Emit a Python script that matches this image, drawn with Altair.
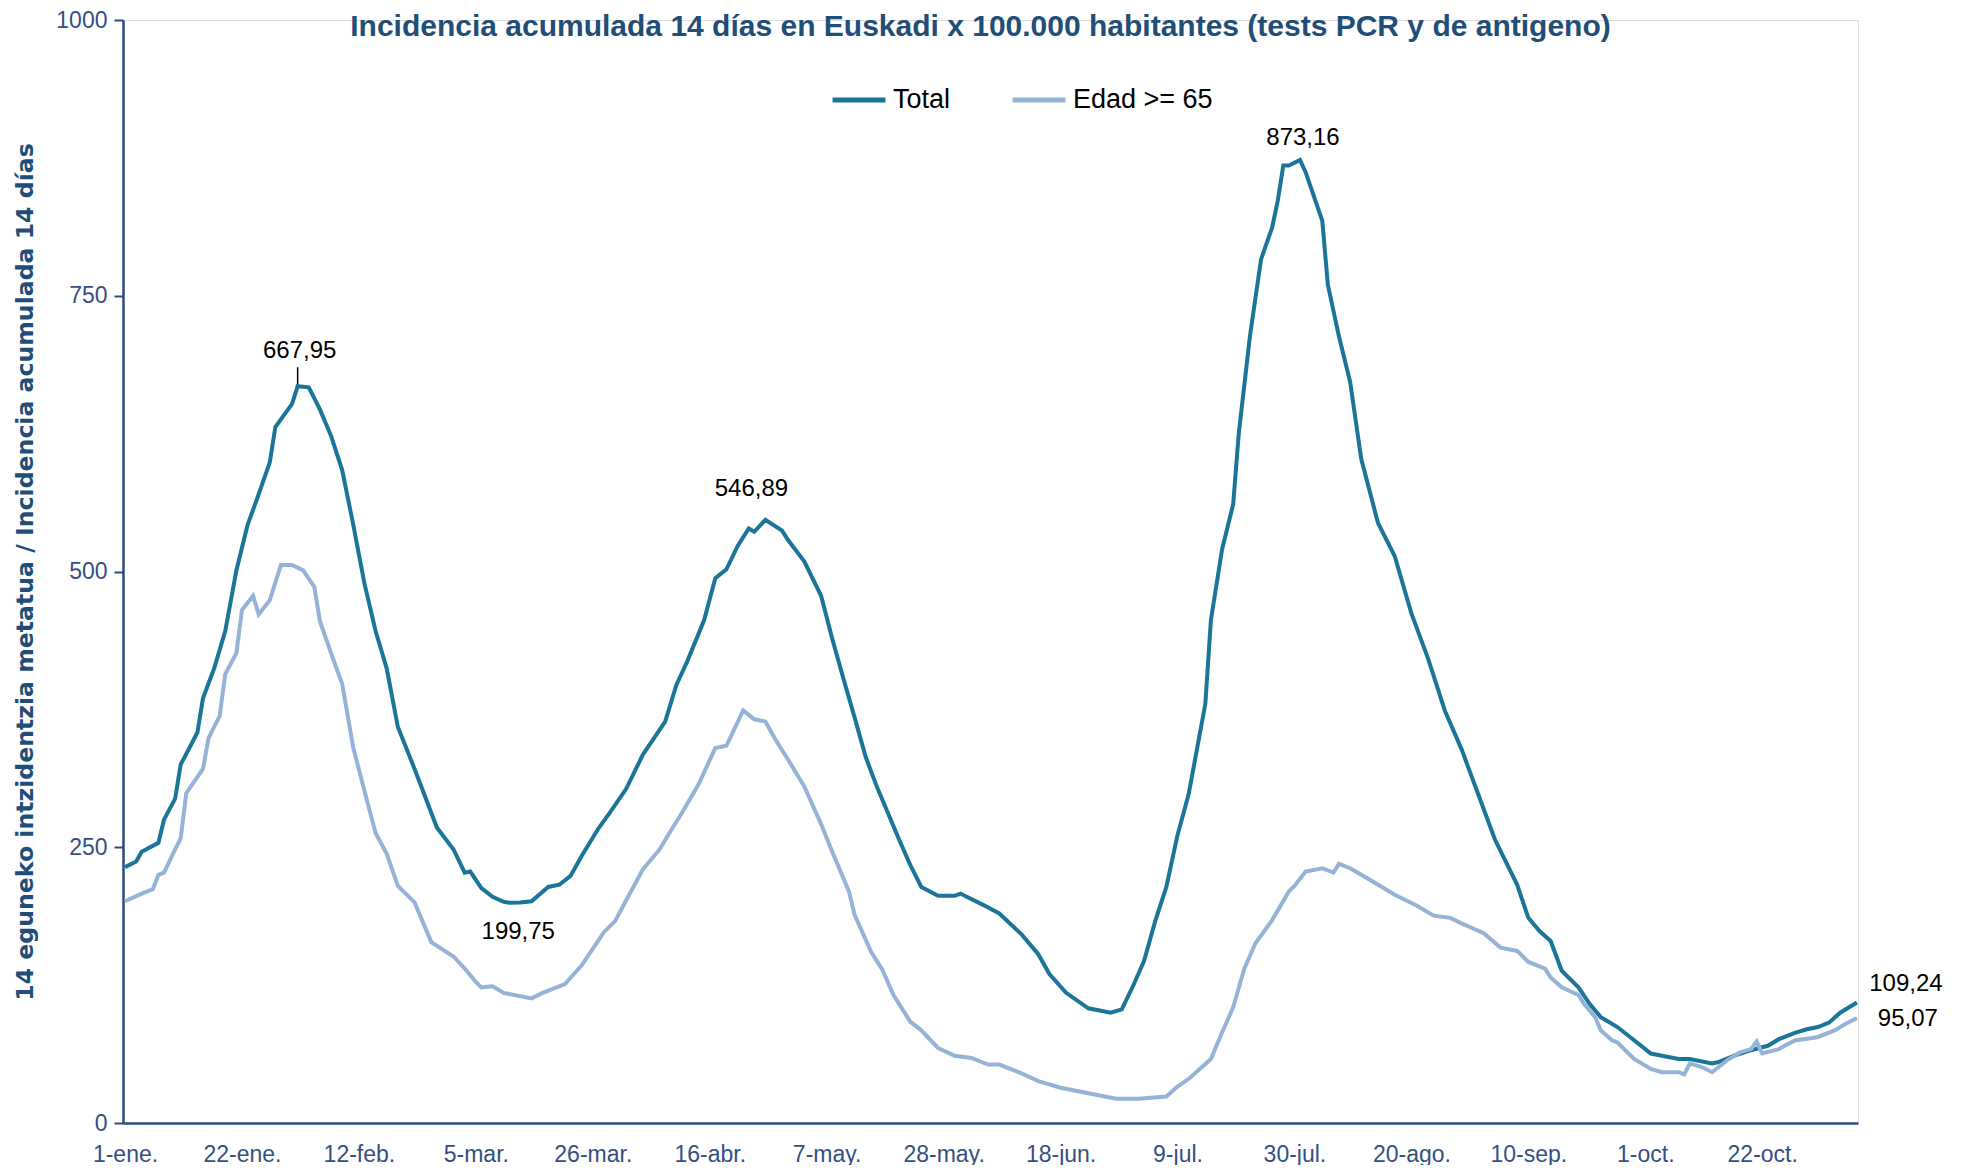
import altair as alt
import pandas as pd

# ---- data (day 0 = 1 enero 2021) ----
TOTAL_DAYS = [0, 2, 3, 6, 7, 9, 10, 13, 14, 16, 18, 20, 22, 24, 26, 27, 30, 31, 33, 35,
              37, 39, 41, 43, 45, 47, 49, 52, 56, 59, 61, 62, 64, 66, 68, 69, 71, 73, 76, 78,
              80, 82, 85, 87, 90, 93, 97, 99, 101, 104, 106, 108, 110, 112, 113, 115, 118, 119, 122, 125,
              127, 129, 131, 133, 135, 137, 139, 141, 143, 146, 149, 150, 154, 157, 161, 164, 166, 169, 173, 177,
              179, 181, 183, 185, 187, 189, 191, 194, 195, 197, 199, 200, 202, 204, 206, 207, 208, 209, 211, 212,
              215, 216, 218, 220, 222, 225, 228, 231, 234, 237, 240, 243, 246, 250, 252, 254, 256, 258, 261, 263,
              265, 268, 271, 274, 276, 279, 281, 285, 286, 289, 292, 295, 297, 300, 302, 304, 306, 308, 311]
TOTAL_VALUES = [232, 237, 246, 254, 275, 294, 325, 354, 385, 412, 446, 501, 542, 570, 599, 631, 652, 667.95, 667, 647,
                623, 592, 542, 489, 446, 412, 359, 321, 268, 248, 227, 228, 213, 205, 200.5, 199.75, 200, 201, 214, 216,
                224, 242, 267, 281, 303, 334, 364, 397, 419, 456, 494, 502, 523, 539, 536, 546.89, 537, 529, 509, 478,
                439, 403, 368, 332, 305, 281, 257, 234, 214, 206, 206, 208, 198, 190, 171, 153, 135, 118, 104, 100,
                103, 124, 147, 183, 214, 261, 298, 380, 456, 520, 561, 625, 713, 783, 812, 836, 868, 868, 873.16, 862,
                818, 760, 713, 672, 602, 544, 514, 462, 421, 374, 339, 298, 257, 216, 186, 174, 165, 138, 123, 108,
                96, 87, 75, 63, 61, 58, 58, 54, 55, 61, 66, 70, 76, 82, 85, 87, 91, 100, 109.24]

EDAD_DAYS = [0, 3, 5, 6, 7, 9, 10, 11, 14, 15, 17, 18, 20, 21, 23, 24, 26, 28, 30, 32,
             34, 35, 37, 39, 41, 43, 45, 47, 49, 52, 55, 59, 61, 63, 64, 66, 68, 73, 75, 79,
             82, 86, 88, 90, 93, 96, 98, 100, 103, 106, 108, 111, 113, 115, 117, 119, 122, 125, 127, 130,
             131, 134, 136, 138, 141, 143, 146, 149, 152, 155, 157, 161, 164, 168, 173, 178, 182, 187, 189, 191,
             195, 197, 199, 201, 203, 206, 209, 210, 212, 215, 217, 218, 220, 222, 226, 228, 232, 235, 238, 240,
             244, 247, 250, 252, 255, 256, 258, 261, 262, 264, 265, 267, 268, 270, 271, 274, 276, 279, 280, 281,
             283, 285, 288, 290, 292, 293, 294, 297, 298, 300, 303, 304, 307, 309, 311]
EDAD_VALUES = [201, 208, 212, 225, 227, 248, 258, 299, 321, 349, 369, 407, 426, 465, 478, 461, 474, 506, 506, 501,
               486, 455, 426, 398, 340, 301, 263, 244, 215, 200, 164, 151, 140, 128, 123, 124, 118, 113, 118, 126,
               143, 173, 183, 202, 230, 248, 265, 281, 307, 340, 342, 374, 366, 364, 346, 330, 305, 271, 246, 210,
               189, 155, 139, 116, 92, 84, 68, 61, 59, 53, 53, 45, 38, 32, 27, 22, 22, 24, 33, 40,
               58, 82, 105, 140, 163, 184, 210, 215, 228, 231, 227, 235, 231, 225, 213, 207, 197, 188, 186, 181,
               172, 159, 156, 146, 140, 132, 123, 116, 108, 96, 84, 75, 73, 63, 58, 49, 46, 46, 44, 54,
               51, 46, 58, 64, 67, 74, 63, 67, 70, 75, 77, 78, 84, 90, 95.07]

SERIES = ["Total", "Edad >= 65"]
SERIES_COLORS = ["#1A7598", "#95B3D7"]

TICK_DAYS = [0, 21, 42, 63, 84, 105, 126, 147, 168, 189, 210, 231, 252, 273, 294]
TICK_LABELS = ["1-ene.", "22-ene.", "12-feb.", "5-mar.", "26-mar.", "16-abr.", "7-may.",
               "28-may.", "18-jun.", "9-jul.", "30-jul.", "20-ago.", "10-sep.", "1-oct.", "22-oct."]
Y_TICKS = [0, 250, 500, 750, 1000]

ANNOT_DAYS = [31, 115, 69, 211, 311, 311]
ANNOT_VALUES = [667.95, 546.89, 199.75, 873.16, 109.24, 95.07]
ANNOT_TEXTS = ["667,95", "546,89", "199,75", "873,16", "109,24", "95,07"]
ANNOT_OFFSETS = [(2, -35), (-14, -31), (9, 29), (3, -22), (49, -19), (51, 1)]  # style (px)

TITLE = "Incidencia acumulada  14 días en Euskadi x 100.000 habitantes (tests PCR y de antigeno)"
Y_TITLE = "14 eguneko intzidentzia metatua / Incidencia acumulada  14 días"

# ---- build tables ----
rows = [{"day": d, "value": v, "serie": SERIES[0]} for d, v in zip(TOTAL_DAYS, TOTAL_VALUES)]
rows += [{"day": d, "value": v, "serie": SERIES[1]} for d, v in zip(EDAD_DAYS, EDAD_VALUES)]
df = pd.DataFrame(rows)

label_expr = "''"
for d, l in reversed(list(zip(TICK_DAYS, TICK_LABELS))):
    label_expr = f"datum.value == {d} ? '{l}' : ({label_expr})"

FONT = "Liberation Sans, Arial, sans-serif"
YTITLE_FONT = "DejaVu Sans, Verdana, sans-serif"
AXIS_COLOR = "#2B4A7E"
LABEL_COLOR = "#34507F"
TITLE_COLOR = "#1F4E79"

W, H = 1735, 1103

x_enc = alt.X("day:Q",
              scale=alt.Scale(domain=[-0.36, 311.2], nice=False, zero=False),
              axis=alt.Axis(values=TICK_DAYS, labelExpr=label_expr, ticks=False, grid=False,
                            title=None, labelFont=FONT, labelFontSize=23, labelColor=LABEL_COLOR,
                            labelPadding=20, labelFlush=False, labelOverlap=False, labelBound=False,
                            domainColor=AXIS_COLOR, domainWidth=2.5))
y_enc = alt.Y("value:Q",
              scale=alt.Scale(domain=[0, 1000], nice=False),
              axis=alt.Axis(values=Y_TICKS, format="d", grid=False, tickSize=9, tickWidth=2,
                            tickColor=AXIS_COLOR, domainColor=AXIS_COLOR, domainWidth=2.5,
                            labelFont=FONT, labelFontSize=23, labelColor=LABEL_COLOR, labelPadding=7,
                            labelFlush=False, labelOverlap=False,
                            title=Y_TITLE, titleFont=YTITLE_FONT, titleFontSize=23.6, titleFontWeight="bold",
                            titleColor=TITLE_COLOR, titleAngle=270, titleAlign="center",
                            titleBaseline="middle", titleX=-98, titleY=H / 2))

lines = alt.Chart(df).mark_line(strokeWidth=4).encode(
    x=x_enc, y=y_enc,
    color=alt.Color("serie:N",
                    scale=alt.Scale(domain=SERIES, range=SERIES_COLORS),
                    sort=SERIES,
                    legend=alt.Legend(orient="none", legendX=707, legendY=51, direction="horizontal",
                                      title=None, symbolType="stroke", symbolStrokeWidth=5,
                                      symbolSize=2800, labelFont=FONT, labelFontSize=27,
                                      labelColor="black", labelOffset=5, columnPadding=51,
                                      padding=0)),
    order=alt.Order("day:Q"),
)

ann = pd.DataFrame({"day": ANNOT_DAYS, "value": ANNOT_VALUES, "text": ANNOT_TEXTS})
layers = [lines]
for i, (dx, dy) in enumerate(ANNOT_OFFSETS):
    layers.append(
        alt.Chart(ann.iloc[[i]]).mark_text(dx=dx, dy=dy, font=FONT, fontSize=24, color="black",
                                            align="center", baseline="middle")
        .encode(x=x_enc, y=y_enc, text="text:N")
    )

leader = alt.Chart(ann.iloc[[0]]).mark_rule(color="black", strokeWidth=1.5, yOffset=-19, y2Offset=-2).encode(
    x=x_enc, y=y_enc, y2=alt.Y2("value:Q"))
layers.append(leader)

chart = alt.layer(*layers).properties(
    width=W, height=H,
    title=alt.TitleParams(TITLE, font=FONT, fontSize=30, fontWeight="bold", color=TITLE_COLOR,
                          anchor="middle", frame="group", dx=-10, dy=33, offset=0),
    autosize=alt.AutoSizeParams(type="none"),
    padding={"left": 115, "top": 12, "right": 100, "bottom": 42},
).configure_view(stroke=None).configure(background="white")

chart.save("out.html", embed_options={"renderer": "svg", "actions": False})
